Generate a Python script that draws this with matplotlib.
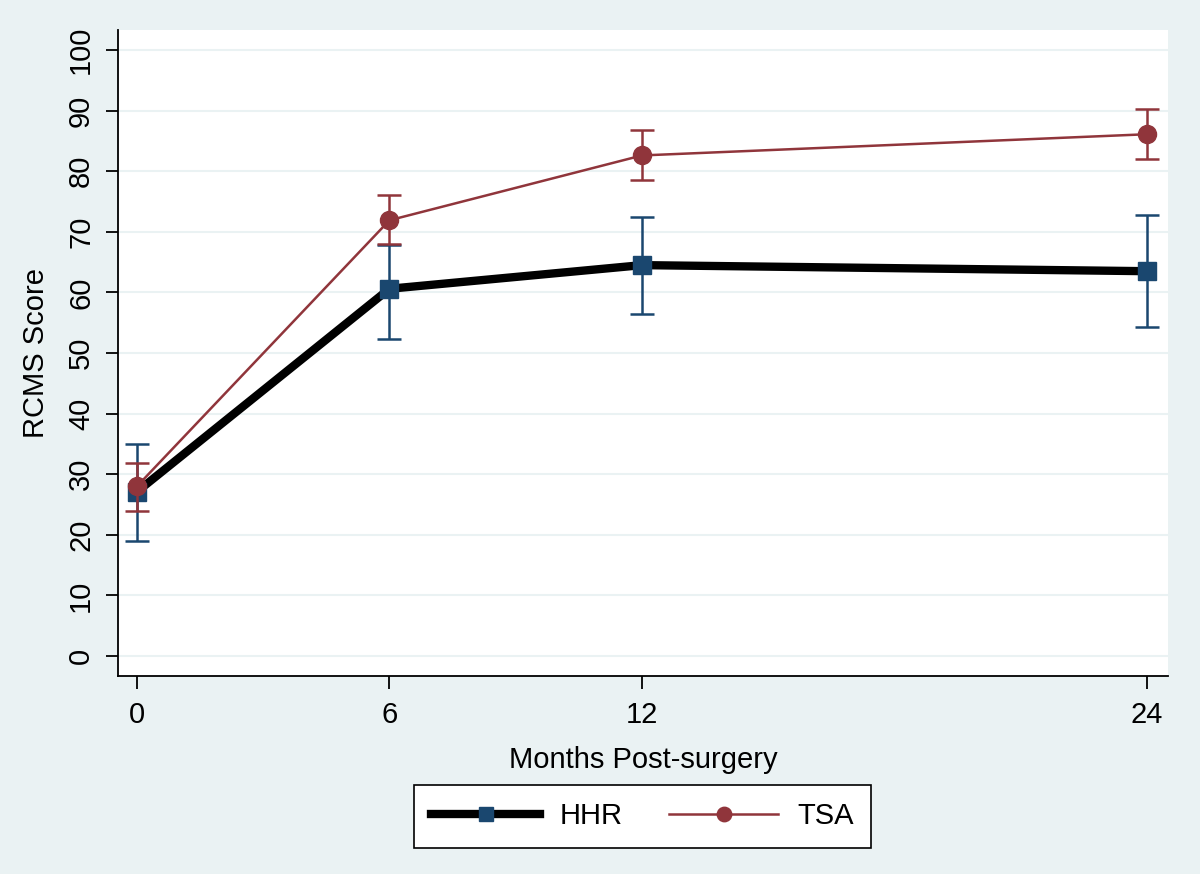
import numpy as np
import matplotlib
matplotlib.use("Agg")
import matplotlib.pyplot as plt

plt.rcParams['font.family'] = ['Liberation Sans', 'DejaVu Sans']

months = [0, 6, 12, 24]

hhr_mean = [27.1, 60.6, 64.5, 63.5]
hhr_low = [19.0, 52.3, 56.4, 54.3]
hhr_high = [35.0, 67.8, 72.4, 72.8]

tsa_mean = [28.0, 71.9, 82.6, 86.1]
tsa_low = [23.9, 68.0, 78.5, 82.0]
tsa_high = [31.8, 76.1, 86.8, 90.3]

bg = '#eaf2f3'
c_hhr = '#1a476f'
c_tsa = '#90353b'
fs = 21

fig = plt.figure(figsize=(12, 8.74), dpi=100, facecolor=bg)
ax = fig.add_axes([118/1200, 1-676/874, 1050/1200, 646/874])
ax.set_facecolor('white')

ax.set_xlim(-0.45, 24.5)
ax.set_ylim(-3.3, 103.3)
ax.set_yticks(np.arange(0, 101, 10))
ax.set_xticks(months)
ax.grid(axis='y', color=bg, lw=1.5)
ax.set_axisbelow(True)

for s in ['top', 'right']:
    ax.spines[s].set_visible(False)
for s in ['left', 'bottom']:
    ax.spines[s].set_linewidth(1.3)

ax.tick_params(length=9, width=1.3, labelsize=fs)
ax.tick_params(axis='x', pad=9)
ax.tick_params(axis='y', pad=7.5)
for lab in ax.get_yticklabels():
    lab.set_rotation(90)
    lab.set_va('center')

hhr_err = [np.array(hhr_mean) - np.array(hhr_low), np.array(hhr_high) - np.array(hhr_mean)]
tsa_err = [np.array(tsa_mean) - np.array(tsa_low), np.array(tsa_high) - np.array(tsa_mean)]

ax.errorbar(months, hhr_mean, yerr=hhr_err, fmt='none', ecolor=c_hhr, elinewidth=1.8,
            capsize=8.5, capthick=1.8, zorder=3)
ax.plot(months, hhr_mean, color='black', lw=6, marker='s', ms=13, mfc=c_hhr, mec=c_hhr,
        label='HHR', zorder=4)
ax.errorbar(months, tsa_mean, yerr=tsa_err, fmt='none', ecolor=c_tsa, elinewidth=1.8,
            capsize=8.5, capthick=1.8, zorder=5)
ax.plot(months, tsa_mean, color=c_tsa, lw=1.8, marker='o', ms=13, mfc=c_tsa, mec=c_tsa,
        label='TSA', zorder=6)

ax.set_xlabel('Months Post-surgery', fontsize=fs, labelpad=12)
ax.set_ylabel('RCMS Score', fontsize=fs, labelpad=12)

leg = fig.legend(*ax.get_legend_handles_labels(), loc='center',
                 bbox_to_anchor=(642.5/1200, 1-816.5/874), ncol=2, fontsize=fs,
                 frameon=True, fancybox=False, edgecolor='black', facecolor='white',
                 framealpha=1, handlelength=3.75, markerscale=0.8,
                 columnspacing=1.6, borderpad=0.6, handletextpad=0.65)
leg.get_frame().set_linewidth(1.2)

fig.savefig('out.png', dpi=100, facecolor=bg)
